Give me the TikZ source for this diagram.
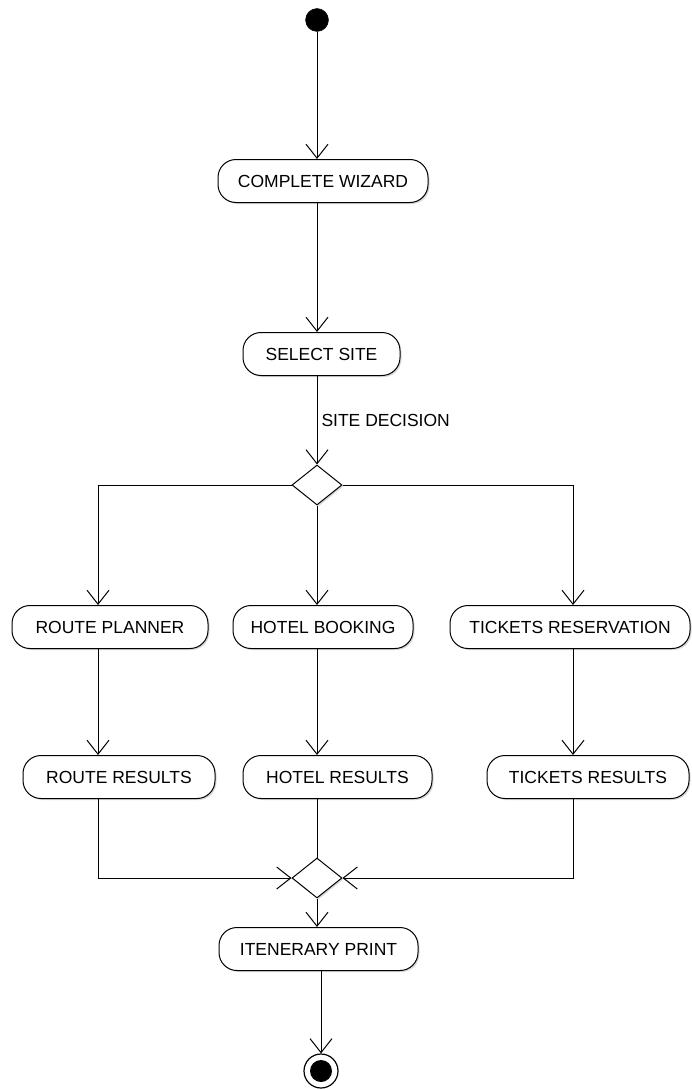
\documentclass[tikz,border=0pt]{standalone}
\usepackage{fontspec}
\setmainfont{Liberation Sans}
\usetikzlibrary{
  arrows.meta,
  shapes.geometric,
  shadows
}

\begin{document}
\begin{tikzpicture}[
  x=1pt, y=-1pt,
  every node/.style={font=\fontsize{17.5}{20}\selectfont},
  activity/.style={
    draw, line width=1pt, fill=white, rounded corners=18pt,
    inner sep=0pt, minimum height=43pt,
    drop shadow={shadow xshift=1.5pt, shadow yshift=-1.5pt, fill=black!30}
  },
  branch/.style={
    draw, diamond, line width=1pt, fill=white, inner sep=0pt,
    minimum width=50pt, minimum height=40pt, shape aspect=1.25,
    drop shadow={shadow xshift=1.5pt, shadow yshift=-1.5pt, fill=black!30}
  },
  initial/.style={circle, fill=black, draw, minimum size=23pt, inner sep=0pt},
  final/.style={circle, draw, line width=1.2pt, fill=white, minimum size=34pt, inner sep=0pt},
  flow/.style={line width=1pt, -{Straight Barb[length=14pt, width=22pt, line width=1pt]}}
]
\useasboundingbox (0,0) rectangle (691,1089);

% columns of the three branches
\coordinate (colL) at (98,0);
\coordinate (colM) at (317,0);
\coordinate (colR) at (573,0);

\node[initial] (start) at (317,20) {};
\node[activity, minimum width=210pt] (wizard) at (323,181) {COMPLETE WIZARD};
\node[activity, minimum width=157pt] (site) at (321.5,354) {SELECT SITE};
\node[branch] (split) at (317,485) {};

\node[activity, minimum width=196pt] (route) at (110,627) {ROUTE PLANNER};
\node[activity, minimum width=180pt] (hotel) at (323,627) {HOTEL BOOKING};
\node[activity, minimum width=240pt] (tickets) at (570,627) {TICKETS RESERVATION};

\node[activity, minimum width=192pt] (routeres) at (119,777) {ROUTE RESULTS};
\node[activity, minimum width=189pt] (hotelres) at (337.5,777) {HOTEL RESULTS};
\node[activity, minimum width=202pt] (ticketsres) at (588,777) {TICKETS RESULTS};

\node[branch] (merge) at (317,878) {};
\node[activity, minimum width=199pt] (print) at (318.5,949) {ITENERARY PRINT};
\node[final] (stop) at (321,1071) {};
\fill (stop) circle (11pt);

% main line
\draw[flow] (start) -- (wizard.north -| colM);
\draw[flow] (wizard.south -| colM) -- (site.north -| colM);
\draw[flow] (site.south -| colM) -- node[right, inner sep=4pt] {SITE DECISION} (split.north);

% fork
\draw[flow] (split.west) -| (route.north -| colL);
\draw[flow] (split.south) -- (hotel.north -| colM);
\draw[flow] (split.east) -| (tickets.north -| colR);

\draw[flow] (route.south -| colL) -- (routeres.north -| colL);
\draw[flow] (hotel.south -| colM) -- (hotelres.north -| colM);
\draw[flow] (tickets.south -| colR) -- (ticketsres.north -| colR);

% join
\draw[flow] (routeres.south -| colL) |- (merge.west);
\draw[line width=1pt] (hotelres.south -| colM) -- (merge.north);
\draw[flow] (ticketsres.south -| colR) |- (merge.east);

\draw[flow] (merge.south) -- (print.north -| merge);
\draw[flow] (print.south -| stop) -- (stop);
\end{tikzpicture}
\end{document}
